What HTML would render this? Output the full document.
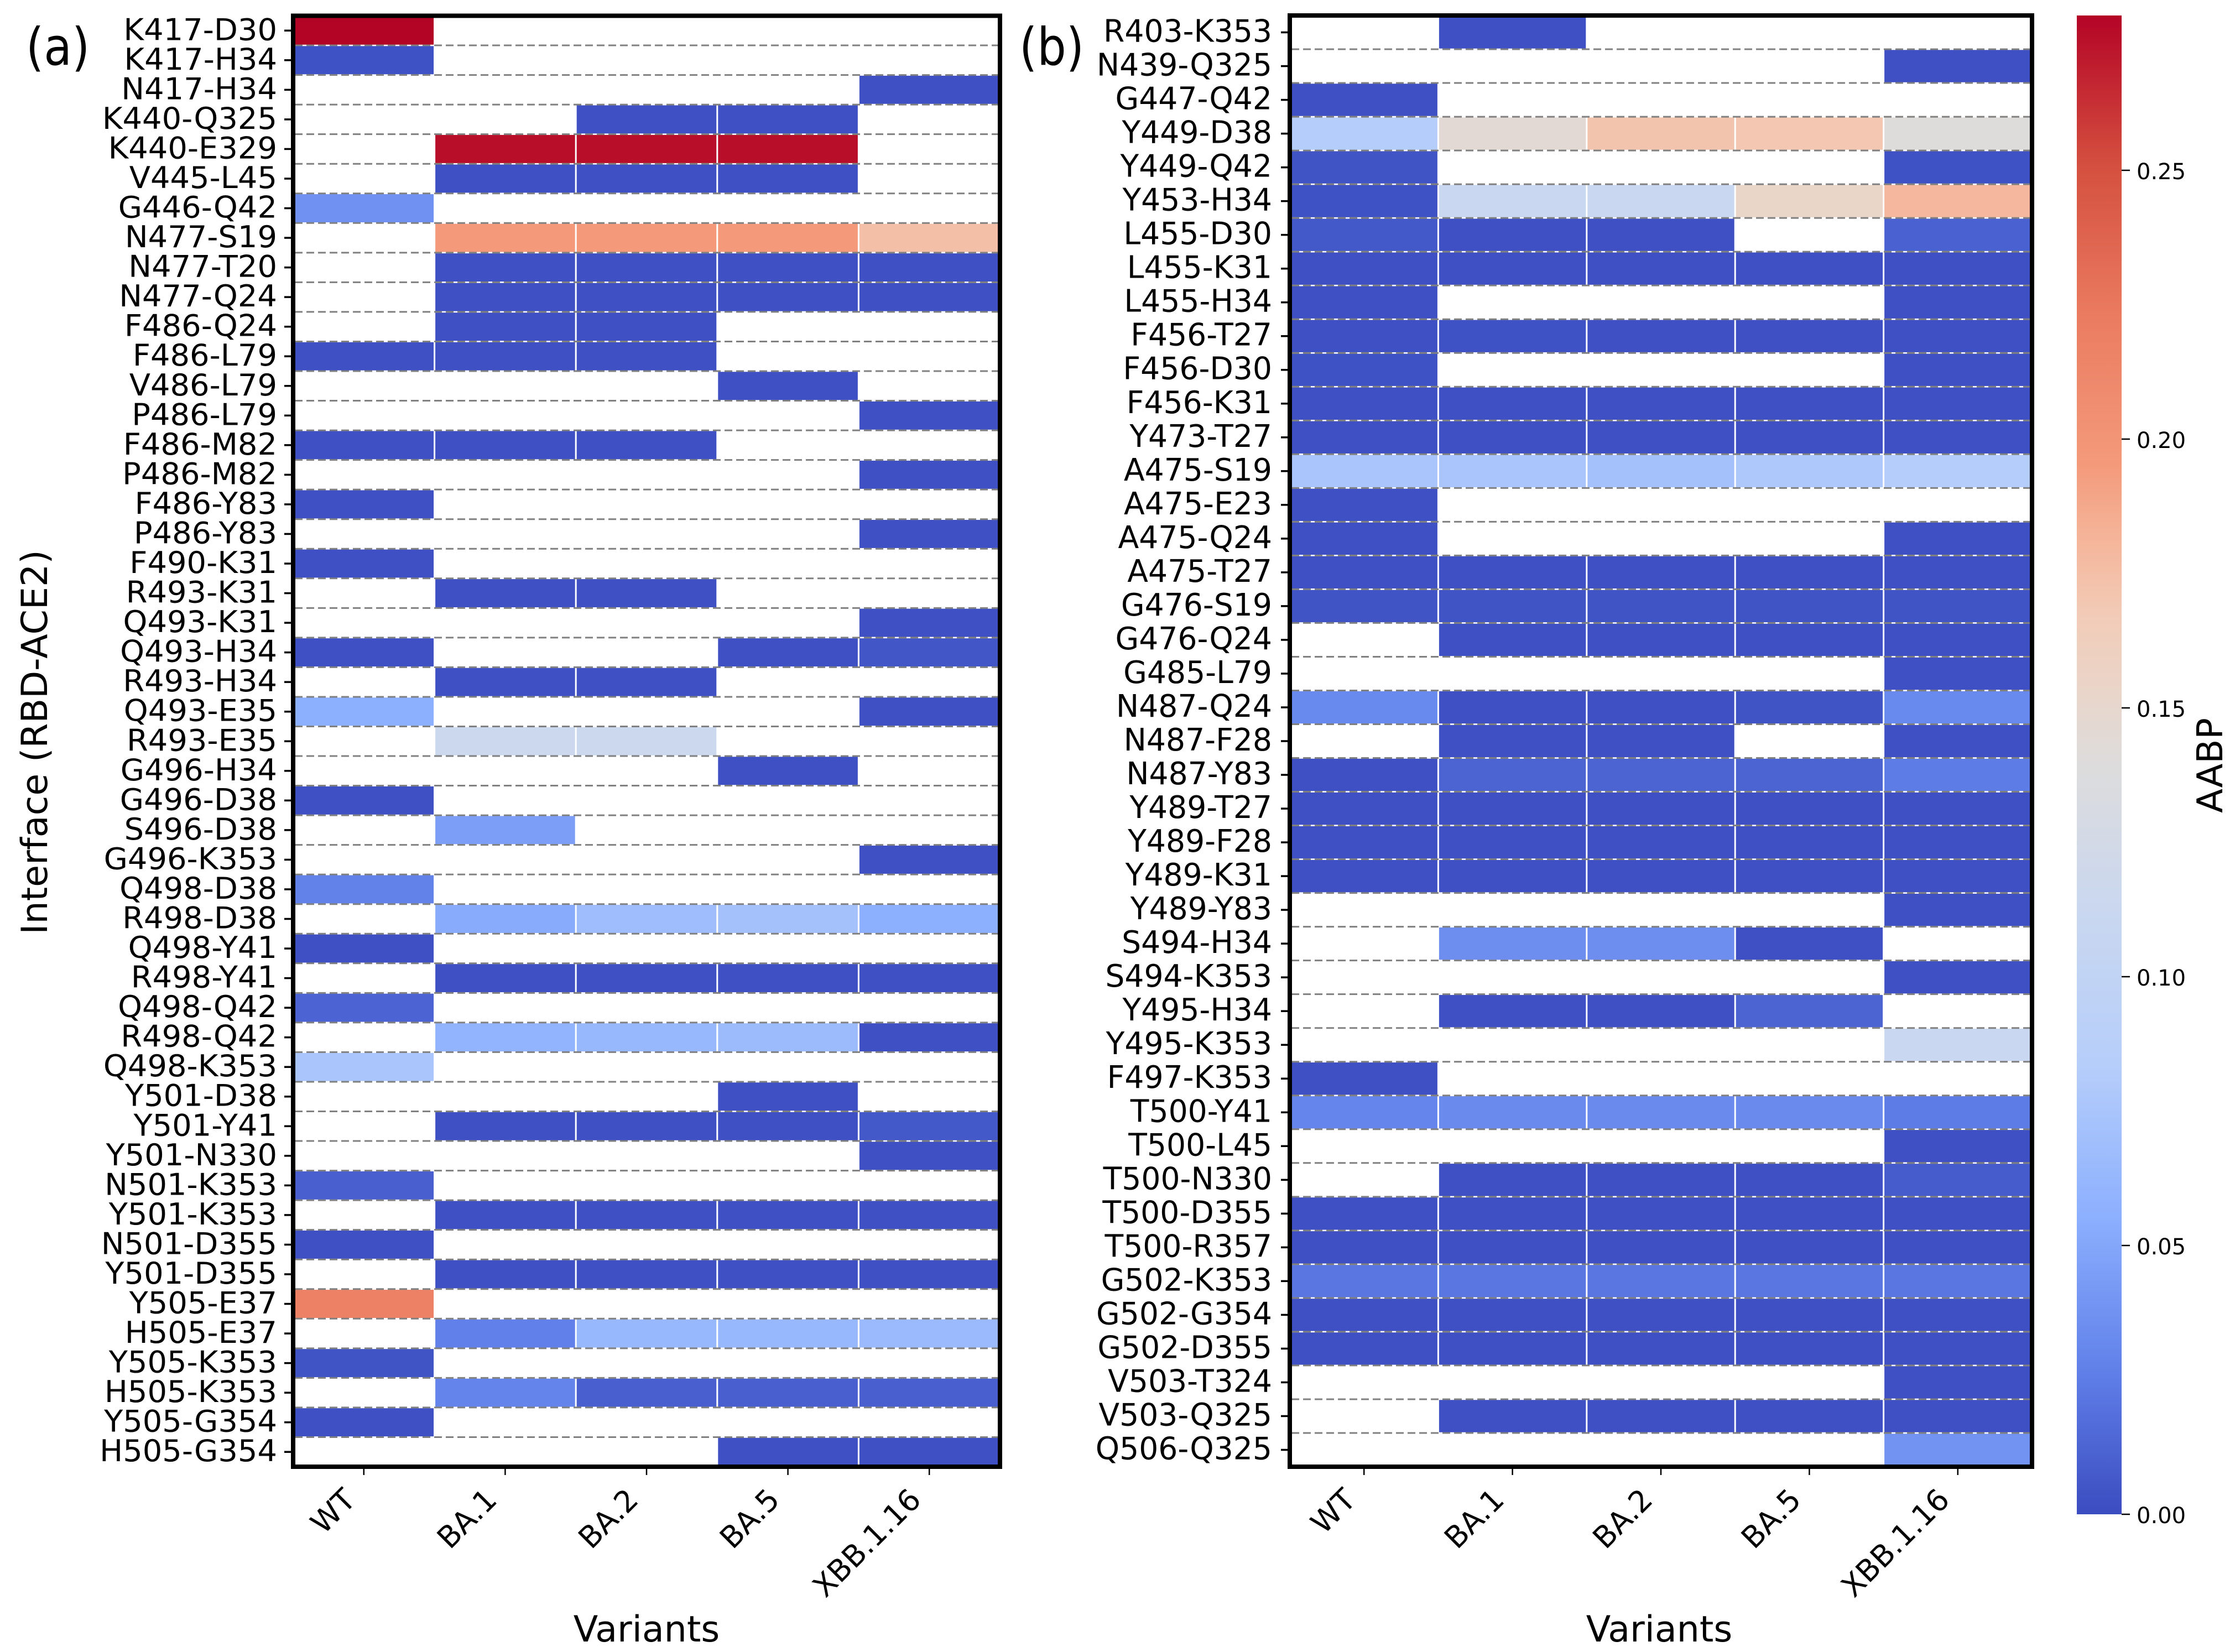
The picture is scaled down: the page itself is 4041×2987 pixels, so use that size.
<!DOCTYPE html>
<html lang="en">
<head>
<meta charset="utf-8">
<title>AABP heatmaps of RBD-ACE2 interfaces</title>
<style>
html,body{margin:0;padding:0;background:#fff;width:4041px;height:2987px;overflow:hidden}
svg{display:block;position:absolute;left:0;top:0}
text{font-family:"DejaVu Sans","Liberation Sans",sans-serif;fill:#000}
</style>
</head>
<body>
<svg id="figure" xmlns="http://www.w3.org/2000/svg" width="4041" height="2987" viewBox="0 0 4041 2987">
<rect x="0" y="0" width="4041" height="2987" fill="#ffffff"/>
<defs><linearGradient id="cbar-gradient" x1="0" y1="1" x2="0" y2="0"></linearGradient></defs>
</svg>
<script>
// ---- categories ----
const variants = ["WT","BA.1","BA.2","BA.5","XBB.1.16"];
const rowsA = ["K417-D30","K417-H34","N417-H34","K440-Q325","K440-E329","V445-L45","G446-Q42","N477-S19","N477-T20","N477-Q24",
"F486-Q24","F486-L79","V486-L79","P486-L79","F486-M82","P486-M82","F486-Y83","P486-Y83","F490-K31","R493-K31",
"Q493-K31","Q493-H34","R493-H34","Q493-E35","R493-E35","G496-H34","G496-D38","S496-D38","G496-K353","Q498-D38",
"R498-D38","Q498-Y41","R498-Y41","Q498-Q42","R498-Q42","Q498-K353","Y501-D38","Y501-Y41","Y501-N330","N501-K353",
"Y501-K353","N501-D355","Y501-D355","Y505-E37","H505-E37","Y505-K353","H505-K353","Y505-G354","H505-G354"];
const rowsB = ["R403-K353","N439-Q325","G447-Q42","Y449-D38","Y449-Q42","Y453-H34","L455-D30","L455-K31","L455-H34","F456-T27",
"F456-D30","F456-K31","Y473-T27","A475-S19","A475-E23","A475-Q24","A475-T27","G476-S19","G476-Q24","G485-L79",
"N487-Q24","N487-F28","N487-Y83","Y489-T27","Y489-F28","Y489-K31","Y489-Y83","S494-H34","S494-K353","Y495-H34",
"Y495-K353","F497-K353","T500-Y41","T500-L45","T500-N330","T500-D355","T500-R357","G502-K353","G502-G354","G502-D355",
"V503-T324","V503-Q325","Q506-Q325"];

// ---- panel (a) series values, one array per variant (null = no contact) ----
const aWT = [.279,.003,null,null,null,null,.037,null,null,null,
null,.002,null,null,.002,null,.002,null,.002,null,
null,.002,null,.056,null,null,.002,null,null,.028,
null,.002,null,.0125,null,.075,null,null,null,.01,
null,.002,null,.218,null,.004,null,.002,null];
const aBA1 = [null,null,null,null,.275,.002,null,.196,.002,.002,
.002,.002,null,null,.002,null,null,null,null,.002,
null,null,.002,null,.115,null,null,.045,null,null,
.053,null,.002,null,.059,null,null,.002,null,null,
.002,null,.002,null,.027,null,.029,null,null];
const aBA2 = [null,null,null,.002,.275,.002,null,.196,.002,.002,
.002,.002,null,null,.002,null,null,null,null,.002,
null,null,.002,null,.115,null,null,null,null,null,
.068,null,.002,null,.063,null,null,.002,null,null,
.002,null,.002,null,.063,null,.01,null,null];
const aBA5 = [null,null,null,.002,.275,.002,null,.196,.002,.002,
null,null,.002,null,null,null,null,null,null,null,
null,.002,null,null,null,.002,null,null,null,null,
.072,null,.002,null,.066,null,.002,.002,null,null,
.002,null,.002,null,.063,null,.01,null,.002];
const aXBB = [null,null,.002,null,null,null,null,.175,.002,.002,
null,null,null,.002,null,.002,null,.002,null,null,
.002,.005,null,.002,null,null,null,null,.002,null,
.056,null,.002,null,.002,null,null,.006,.002,null,
.002,null,.002,null,.065,null,.01,null,.002];

// ---- panel (b) series values ----
const bWT = [null,null,.002,.083,.004,.003,.006,.002,.002,.002,
.003,.002,.002,.075,.002,.002,.002,.004,null,null,
.032,null,.002,.002,.002,.002,null,null,null,null,
null,.002,.03,null,null,.002,.002,.022,.002,.002,
null,null,null];
const bBA1 = [.002,null,null,.145,null,.112,.002,.002,null,.003,
null,.002,.002,.075,null,null,.002,.004,.002,null,
.002,.002,.012,.002,.002,.002,null,.035,null,.002,
null,null,.033,null,.002,.002,.002,.022,.002,.002,
null,.002,null];
const bBA2 = [null,null,null,.172,null,.112,.002,.002,null,.002,
null,.002,.002,.072,null,null,.002,.004,.002,null,
.002,.002,.012,.002,.002,.002,null,.035,null,.002,
null,null,.033,null,.002,.002,.002,.022,.002,.002,
null,.002,null];
const bBA5 = [null,null,null,.17,null,.153,null,.002,null,.002,
null,.002,.002,.078,null,null,.002,.004,.002,null,
.004,null,.012,.002,.002,.002,null,.002,null,.012,
null,null,.033,null,.002,.002,.002,.022,.002,.002,
null,.002,null];
const bXBB = [null,.002,null,.14,.003,.18,.011,.002,.002,.002,
.002,.002,.002,.083,null,.002,.002,.004,.002,.002,
.032,.002,.025,.002,.002,.002,.002,null,.002,null,
.112,null,.025,.002,.008,.002,.002,.022,.002,.002,
.002,.002,.038];

// ---- colour bar scale ----
const colorbarTicks = [0,.05,.1,.15,.2,.25];
const colorbarTickLabels = ["0.00","0.05","0.10","0.15","0.20","0.25"];
const colorbarMax = 0.2788;

// coolwarm colormap anchors
const cmapFracs = [0,.1,.2,.3,.4,.5,.55,.6,.65,.7,.8,.9,1];
const cmapColors = ["#3b4cc0","#6282ea","#8db0fe","#b6cefa","#c9d7f0","#dddcdc","#ead5c9","#f2cbb7","#f5b59a","#f49a7b","#ea7b60","#d44f3f","#b40426"];

const NS = "http://www.w3.org/2000/svg";
const svg = document.getElementById("figure");
function hex(c){return [1,3,5].map(i=>parseInt(c.substr(i,2),16));}
function colorScale(v){
  const t = Math.max(0,Math.min(1,v/colorbarMax));
  let i = 0;
  while(i < cmapFracs.length-2 && t > cmapFracs[i+1]) i++;
  const f = (t-cmapFracs[i])/(cmapFracs[i+1]-cmapFracs[i]);
  const a = hex(cmapColors[i]), b = hex(cmapColors[i+1]);
  return "rgb("+a.map((x,k)=>Math.round(x+(b[k]-x)*f)).join(",")+")";
}
function mk(parent,tag,attrs,txt){
  const el = document.createElementNS(NS,tag);
  for(const k in attrs) el.setAttribute(k,attrs[k]);
  if(txt!==undefined) el.textContent = txt;
  parent.appendChild(el);
  return el;
}

function drawPanel(cfg){
  const g = mk(svg,"g",{});
  
  
  const nR = cfg.rows.length, nC = variants.length;
  const cw = (cfg.x1-cfg.x0)/nC, rh = (cfg.y1-cfg.y0)/nR;
  const xScale = c => cfg.x0 + c*cw;
  const yScale = r => cfg.y0 + r*rh;

  // cells
  cfg.series.forEach((vals,c)=>{
    vals.forEach((v,r)=>{
      if(v===null || v===undefined) return;
      const el = mk(g,"rect",{x:xScale(c)+1.5,y:yScale(r)+1.3,width:cw-3,height:rh-2.6,fill:colorScale(v)});
      
      
    });
  });
  // dashed row separators
  for(let r=1;r<nR;r++){
    const l = mk(g,"line",{x1:cfg.x0+3,x2:cfg.x1-3,y1:yScale(r),y2:yScale(r),stroke:"#808080","stroke-width":3,"stroke-dasharray":"14 7"});
    
    
  }
  // y ticks and labels
  cfg.rows.forEach((lab,r)=>{
    const yc = yScale(r+.5);
    const t = mk(g,"line",{x1:cfg.x0-16,x2:cfg.x0-3,y1:yc,y2:yc,stroke:"#000","stroke-width":3.5});
    
    
    const tx = mk(g,"text",{transform:"translate("+cfg.labelX+","+(yc+cfg.labelDy)+") scale("+cfg.labelSx+",1)","text-anchor":"end","font-size":cfg.labelFs},lab);
    
    
  });
  // x ticks and labels
  variants.forEach((lab,c)=>{
    const xc = xScale(c+.5);
    const t = mk(g,"line",{x1:xc,x2:xc,y1:cfg.y1+3,y2:cfg.y1+15,stroke:"#000","stroke-width":2.5});
    
    
    const tx = mk(g,"text",{transform:"translate("+(xc-12)+",2715) rotate(-45)","text-anchor":"end","font-size":54},lab);
    
    
  });
  // frame
  const fr = mk(g,"rect",{x:cfg.x0,y:cfg.y0,width:cfg.x1-cfg.x0,height:cfg.y1-cfg.y0,fill:"none",stroke:"#000","stroke-width":8});
  
  
  // x title
  const xt = mk(g,"text",{x:cfg.xTitleX,y:2968,"text-anchor":"middle","font-size":65},"Variants");
  
  
  // panel letter
  const pl = mk(g,"text",{transform:"translate("+cfg.letterX+",117) scale(0.88,1)","font-size":94},cfg.letter);
  
  
}

drawPanel({id:"a",letter:"(a)",letterX:47,rows:rowsA,series:[aWT,aBA1,aBA2,aBA5,aXBB],
  x0:530,x1:1808,y0:28.5,y1:2652,labelX:501,labelDy:17,labelFs:54,labelSx:1.035,xTitleX:1169});
drawPanel({id:"b",letter:"(b)",letterX:1843,rows:rowsB,series:[bWT,bBA1,bBA2,bBA5,bXBB],
  x0:2332,x1:3674,y0:28,y1:2652,labelX:2300,labelDy:17,labelFs:56,labelSx:0.985,xTitleX:3000});

// y axis title
const yTitle = mk(svg,"text",{transform:"translate(85,1342) rotate(-90)","text-anchor":"middle","font-size":65},"Interface (RBD-ACE2)");



// colour bar
const cbX0 = 3755, cbX1 = 3836, cbTop = 28, cbBottom = 2738;
const cbScale = v => cbBottom - (v/colorbarMax)*(cbBottom-cbTop);
const grad = document.getElementById("cbar-gradient");
cmapFracs.forEach((f,i)=>{
  mk(grad,"stop",{offset:f,"stop-color":cmapColors[i]});
});
const cbG = mk(svg,"g",{});


const cbRect = mk(cbG,"rect",{x:cbX0,y:cbTop,width:cbX1-cbX0,height:cbBottom-cbTop,fill:"url(#cbar-gradient)"});


colorbarTicks.forEach((v,i)=>{
  const y = cbScale(v);
  const t = mk(cbG,"line",{x1:cbX1,x2:cbX1+15,y1:y,y2:y,stroke:"#000","stroke-width":2.5});
  
  
  const tx = mk(cbG,"text",{x:3863,y:y+16,"font-size":40},colorbarTickLabels[i]);
  
  
});
const cbTitle = mk(cbG,"text",{transform:"translate(4018,1384) rotate(-90)","text-anchor":"middle","font-size":64},"AABP");


</script>
</body>
</html>
